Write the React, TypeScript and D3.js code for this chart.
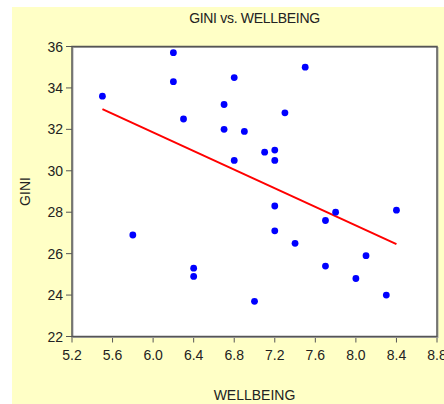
import React from "react";
import * as d3 from "d3";

const wellbeing = [5.5, 6.2, 6.2, 6.3, 6.7, 6.7, 6.8, 6.8, 6.9, 7.1, 7.2, 7.2, 7.2, 7.2, 7.3, 7.5, 5.8, 6.4, 6.4, 7.4, 7.7, 7.7, 7.8, 8.4, 8.1, 8.0, 8.3, 7.0];
const gini = [33.6, 35.7, 34.3, 32.5, 33.2, 32.0, 34.5, 30.5, 31.9, 30.9, 31.0, 30.5, 28.3, 27.1, 32.8, 35.0, 26.9, 25.3, 24.9, 26.5, 27.6, 25.4, 28.0, 28.1, 25.9, 24.8, 24.0, 23.7];
const xTicks = [5.2, 5.6, 6.0, 6.4, 6.8, 7.2, 7.6, 8.0, 8.4, 8.8];
const yTicks = [22, 24, 26, 28, 30, 32, 34, 36];
const title = "GINI vs. WELLBEING";
const xLabel = "WELLBEING";
const yLabel = "GINI";

export default function App() {
  const W = 444, H = 404;
  const L = 72, R = 437, T = 46.5, B = 336.5;
  const x = d3.scaleLinear().domain([5.2, 8.8]).range([L, R]);
  const y = d3.scaleLinear().domain([22, 36]).range([B, T]);

  const mx = d3.mean(wellbeing)!;
  const my = d3.mean(gini)!;
  let sxy = 0, sxx = 0;
  wellbeing.forEach((v, i) => {
    sxy += (v - mx) * (gini[i] - my);
    sxx += (v - mx) * (v - mx);
  });
  const slope = sxy / sxx;
  const icpt = my - slope * mx;
  const [x0, x1] = d3.extent(wellbeing) as [number, number];
  const fit: [number, number][] = [[x0, icpt + slope * x0], [x1, icpt + slope * x1]];
  const line = d3.line<[number, number]>().x(d => x(d[0])).y(d => y(d[1]));

  const font = "'Liberation Sans', Arial, sans-serif";
  return (
    <svg width={W} height={H} style={{ position: "fixed", left: 0, top: 0 }} fontFamily={font}>
      <rect x={12} y={7} width={W - 12} height={H - 7} fill="#FFFFC6" />
      <rect x={L} y={T} width={R - L} height={B - T} fill="#fff" />
      <text x={(L + R) / 2} y={23} textAnchor="middle" fontSize={14} fill="#222" letterSpacing={-0.3}>{title}</text>
      {yTicks.map(t => (
        <g key={"y" + t}>
          <line x1={L - 6} x2={L} y1={y(t)} y2={y(t)} stroke="#555" strokeWidth={1} />
          <text x={L - 9} y={y(t) + 5} textAnchor="end" fontSize={14} fill="#222">{t}</text>
        </g>
      ))}
      {xTicks.map(t => (
        <g key={"x" + t}>
          <line x1={x(t)} x2={x(t)} y1={B} y2={B + 6} stroke="#555" strokeWidth={1} />
          <text x={x(t)} y={360} textAnchor="middle" fontSize={14} fill="#222">{t.toFixed(1)}</text>
        </g>
      ))}
      <text x={(L + R) / 2} y={400} textAnchor="middle" fontSize={14} fill="#222">{xLabel}</text>
      <text transform={`translate(30,${(T + B) / 2}) rotate(-90)`} textAnchor="middle" fontSize={14} fill="#222">{yLabel}</text>
      <path d={line(fit)!} stroke="#ff0000" strokeWidth={2} fill="none" />
      {wellbeing.map((v, i) => (
        <circle key={i} cx={x(v)} cy={y(gini[i])} r={3.4} fill="#0000ff" />
      ))}
      <rect x={L + 1} y={T + 1} width={R - L} height={B - T} fill="none" stroke="#aaa" strokeWidth={1} />
      <rect x={L} y={T} width={R - L} height={B - T} fill="none" stroke="#555" strokeWidth={1.5} />
    </svg>
  );
}
